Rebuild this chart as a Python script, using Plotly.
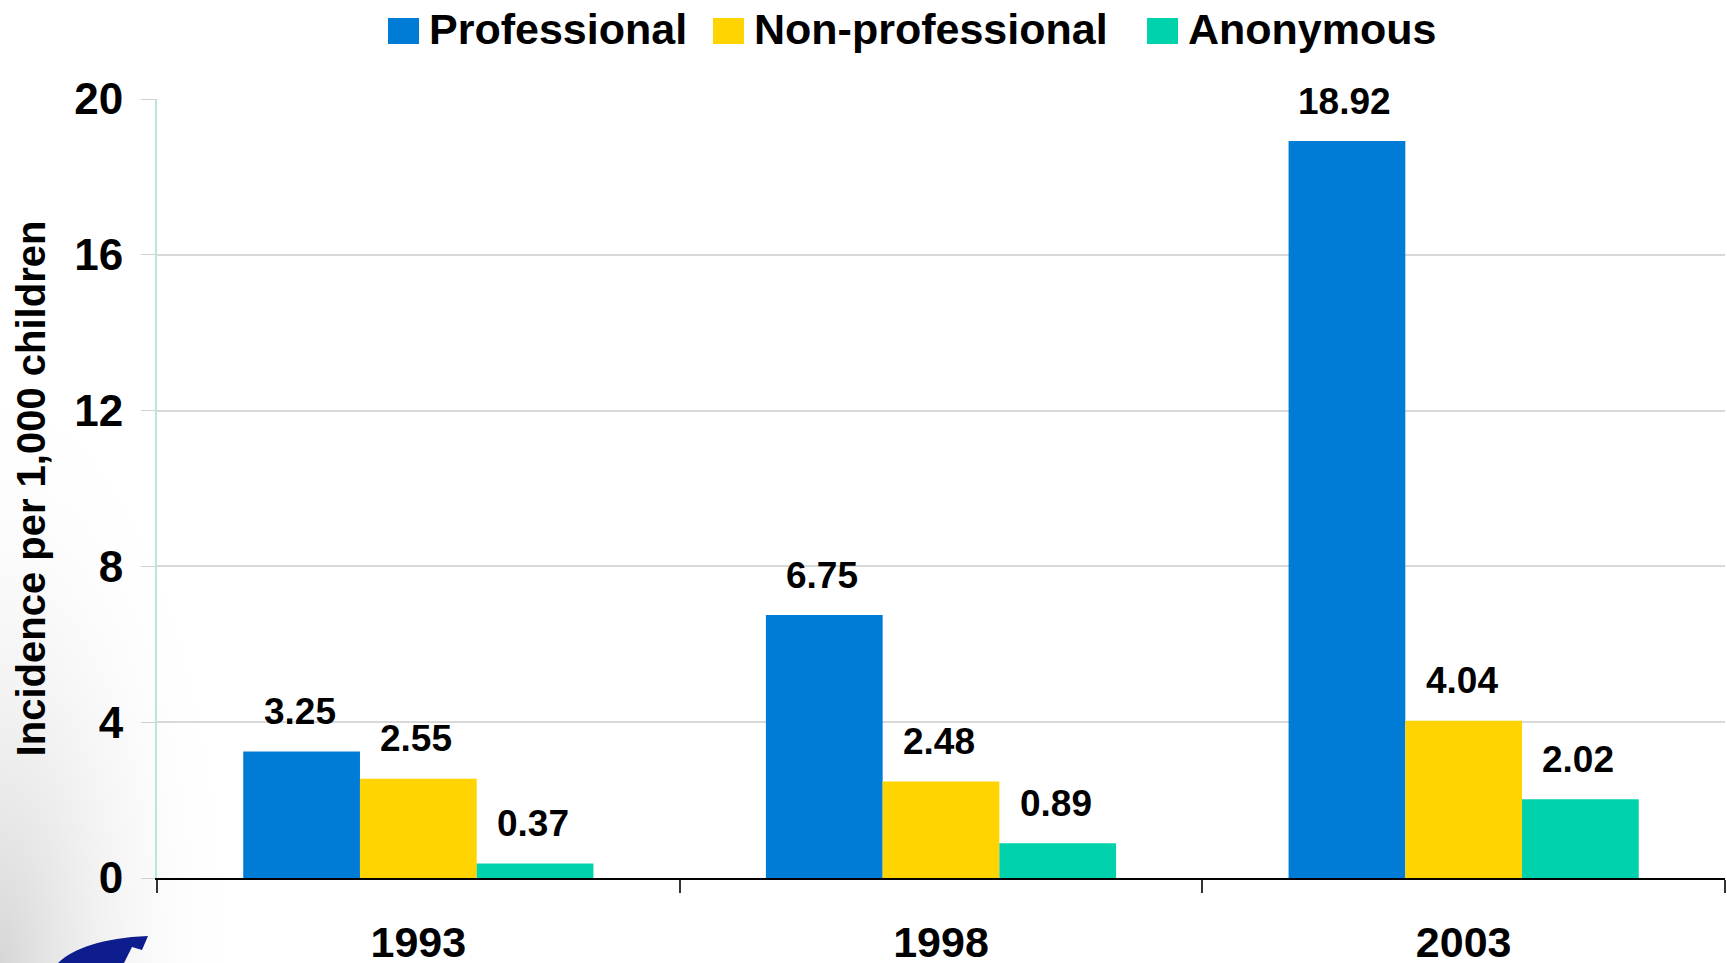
import base64

import plotly.graph_objects as go

years = ["1993", "1998", "2003"]
series_names = ["Professional", "Non-professional", "Anonymous"]
professional = [3.25, 6.75, 18.92]
non_professional = [2.55, 2.48, 4.04]
anonymous = [0.37, 0.89, 2.02]
y_ticks = [0, 4, 8, 12, 16, 20]
y_title = "Incidence per 1,000 children"

colors = ["#007bd6", "#ffd400", "#00d3ab"]
FONT = "Liberation Sans, Arial, sans-serif"

W, H = 1727, 963
ML, MR, MT, MB = 157, 2, 99, 85
PW, PH = W - ML - MR, H - MT - MB
BARGAP = 0.33


def px_x(px):
    return (px - ML) / PW


def px_y(py):
    return (H - MB - py) / PH


series_values = [professional, non_professional, anonymous]

fig = go.Figure()
for name, vals, col in zip(series_names, series_values, colors):
    fig.add_trace(
        go.Bar(x=years, y=vals, name=name, marker=dict(color=col, line_width=0))
    )

# value labels sit a fixed gap above each bar
# (category axis: annotations take the category's serial number)
bar_px = PW / len(years) * (1 - BARGAP) / len(series_names)
for i, vals in enumerate(series_values):
    for j, v in enumerate(vals):
        fig.add_annotation(
            x=j,
            y=v,
            text=f"{v:.2f}",
            showarrow=False,
            xshift=(i - 1) * bar_px - 2,
            yshift=40,
            yanchor="middle",
            font=dict(family=FONT, size=37, color="black", weight="bold"),
        )

# custom legend with large square swatches
legend_sq = [388, 713, 1147]
for name, col, sx in zip(series_names, colors, legend_sq):
    fig.add_shape(
        type="rect",
        xref="paper",
        yref="paper",
        x0=px_x(sx),
        x1=px_x(sx + 31),
        y0=px_y(44),
        y1=px_y(18),
        fillcolor=col,
        line_width=0,
    )
    fig.add_annotation(
        xref="paper",
        yref="paper",
        x=px_x(sx + 39),
        y=px_y(29),
        xanchor="left",
        yanchor="middle",
        text=name,
        showarrow=False,
        font=dict(family=FONT, size=43, color="black", weight="bold"),
    )

# slide backdrop: grey shading and logo corner at bottom left
svg = (
    "<svg xmlns='http://www.w3.org/2000/svg' width='1727' height='963'>"
    "<defs><radialGradient id='g' gradientUnits='userSpaceOnUse' cx='0' cy='963' r='600' "
    "gradientTransform='translate(0 963) scale(0.4 1) translate(0 -963)'>"
    "<stop offset='0' stop-color='#d6d6d6'/>"
    "<stop offset='1' stop-color='#ffffff' stop-opacity='0'/></radialGradient></defs>"
    "<rect width='1727' height='963' fill='url(#g)'/>"
    "<path d='M58 963 C74 948 102 938 148 936 L142 950 L132 947 L124 963 Z' fill='#0d1d8e'/>"
    "</svg>"
)
fig.add_layout_image(
    source="data:image/svg+xml;base64," + base64.b64encode(svg.encode()).decode(),
    xref="paper",
    yref="paper",
    x=px_x(0),
    y=px_y(0),
    sizex=W / PW,
    sizey=H / PH,
    sizing="stretch",
    xanchor="left",
    yanchor="top",
    layer="below",
)

fig.update_layout(
    width=W,
    height=H,
    margin=dict(l=ML, r=MR, t=MT, b=MB, autoexpand=False),
    barmode="group",
    bargap=BARGAP,
    bargroupgap=0,
    showlegend=False,
    paper_bgcolor="white",
    plot_bgcolor="rgba(0,0,0,0)",
    font=dict(family=FONT, color="black"),
    xaxis=dict(
        type="category",
        range=[-0.5, len(years) - 0.5],
        showline=True,
        linecolor="black",
        linewidth=1.5,
        ticks="outside",
        tickson="boundaries",
        ticklen=13,
        tickwidth=1.5,
        tickcolor="#333333",
        ticklabelstandoff=26,
        tickfont=dict(family=FONT, size=43, weight="bold"),
        showgrid=False,
    ),
    yaxis=dict(
        range=[0, 20],
        tickvals=y_ticks,
        showline=True,
        linecolor="#b5e8da",
        linewidth=2,
        ticks="outside",
        ticklen=14,
        tickcolor="#cfcfcf",
        ticklabelstandoff=9,
        tickfont=dict(family=FONT, size=44, weight="bold"),
        showgrid=True,
        gridcolor="#d9d9d9",
        gridwidth=1.5,
        zeroline=False,
        title=dict(
            text=y_title,
            font=dict(family=FONT, size=40, weight="bold"),
            standoff=16,
        ),
    ),
)

fig.write_html(
    "out.html",
    post_script="document.body.style.margin='0';",
    config=dict(displayModeBar=False),
)
